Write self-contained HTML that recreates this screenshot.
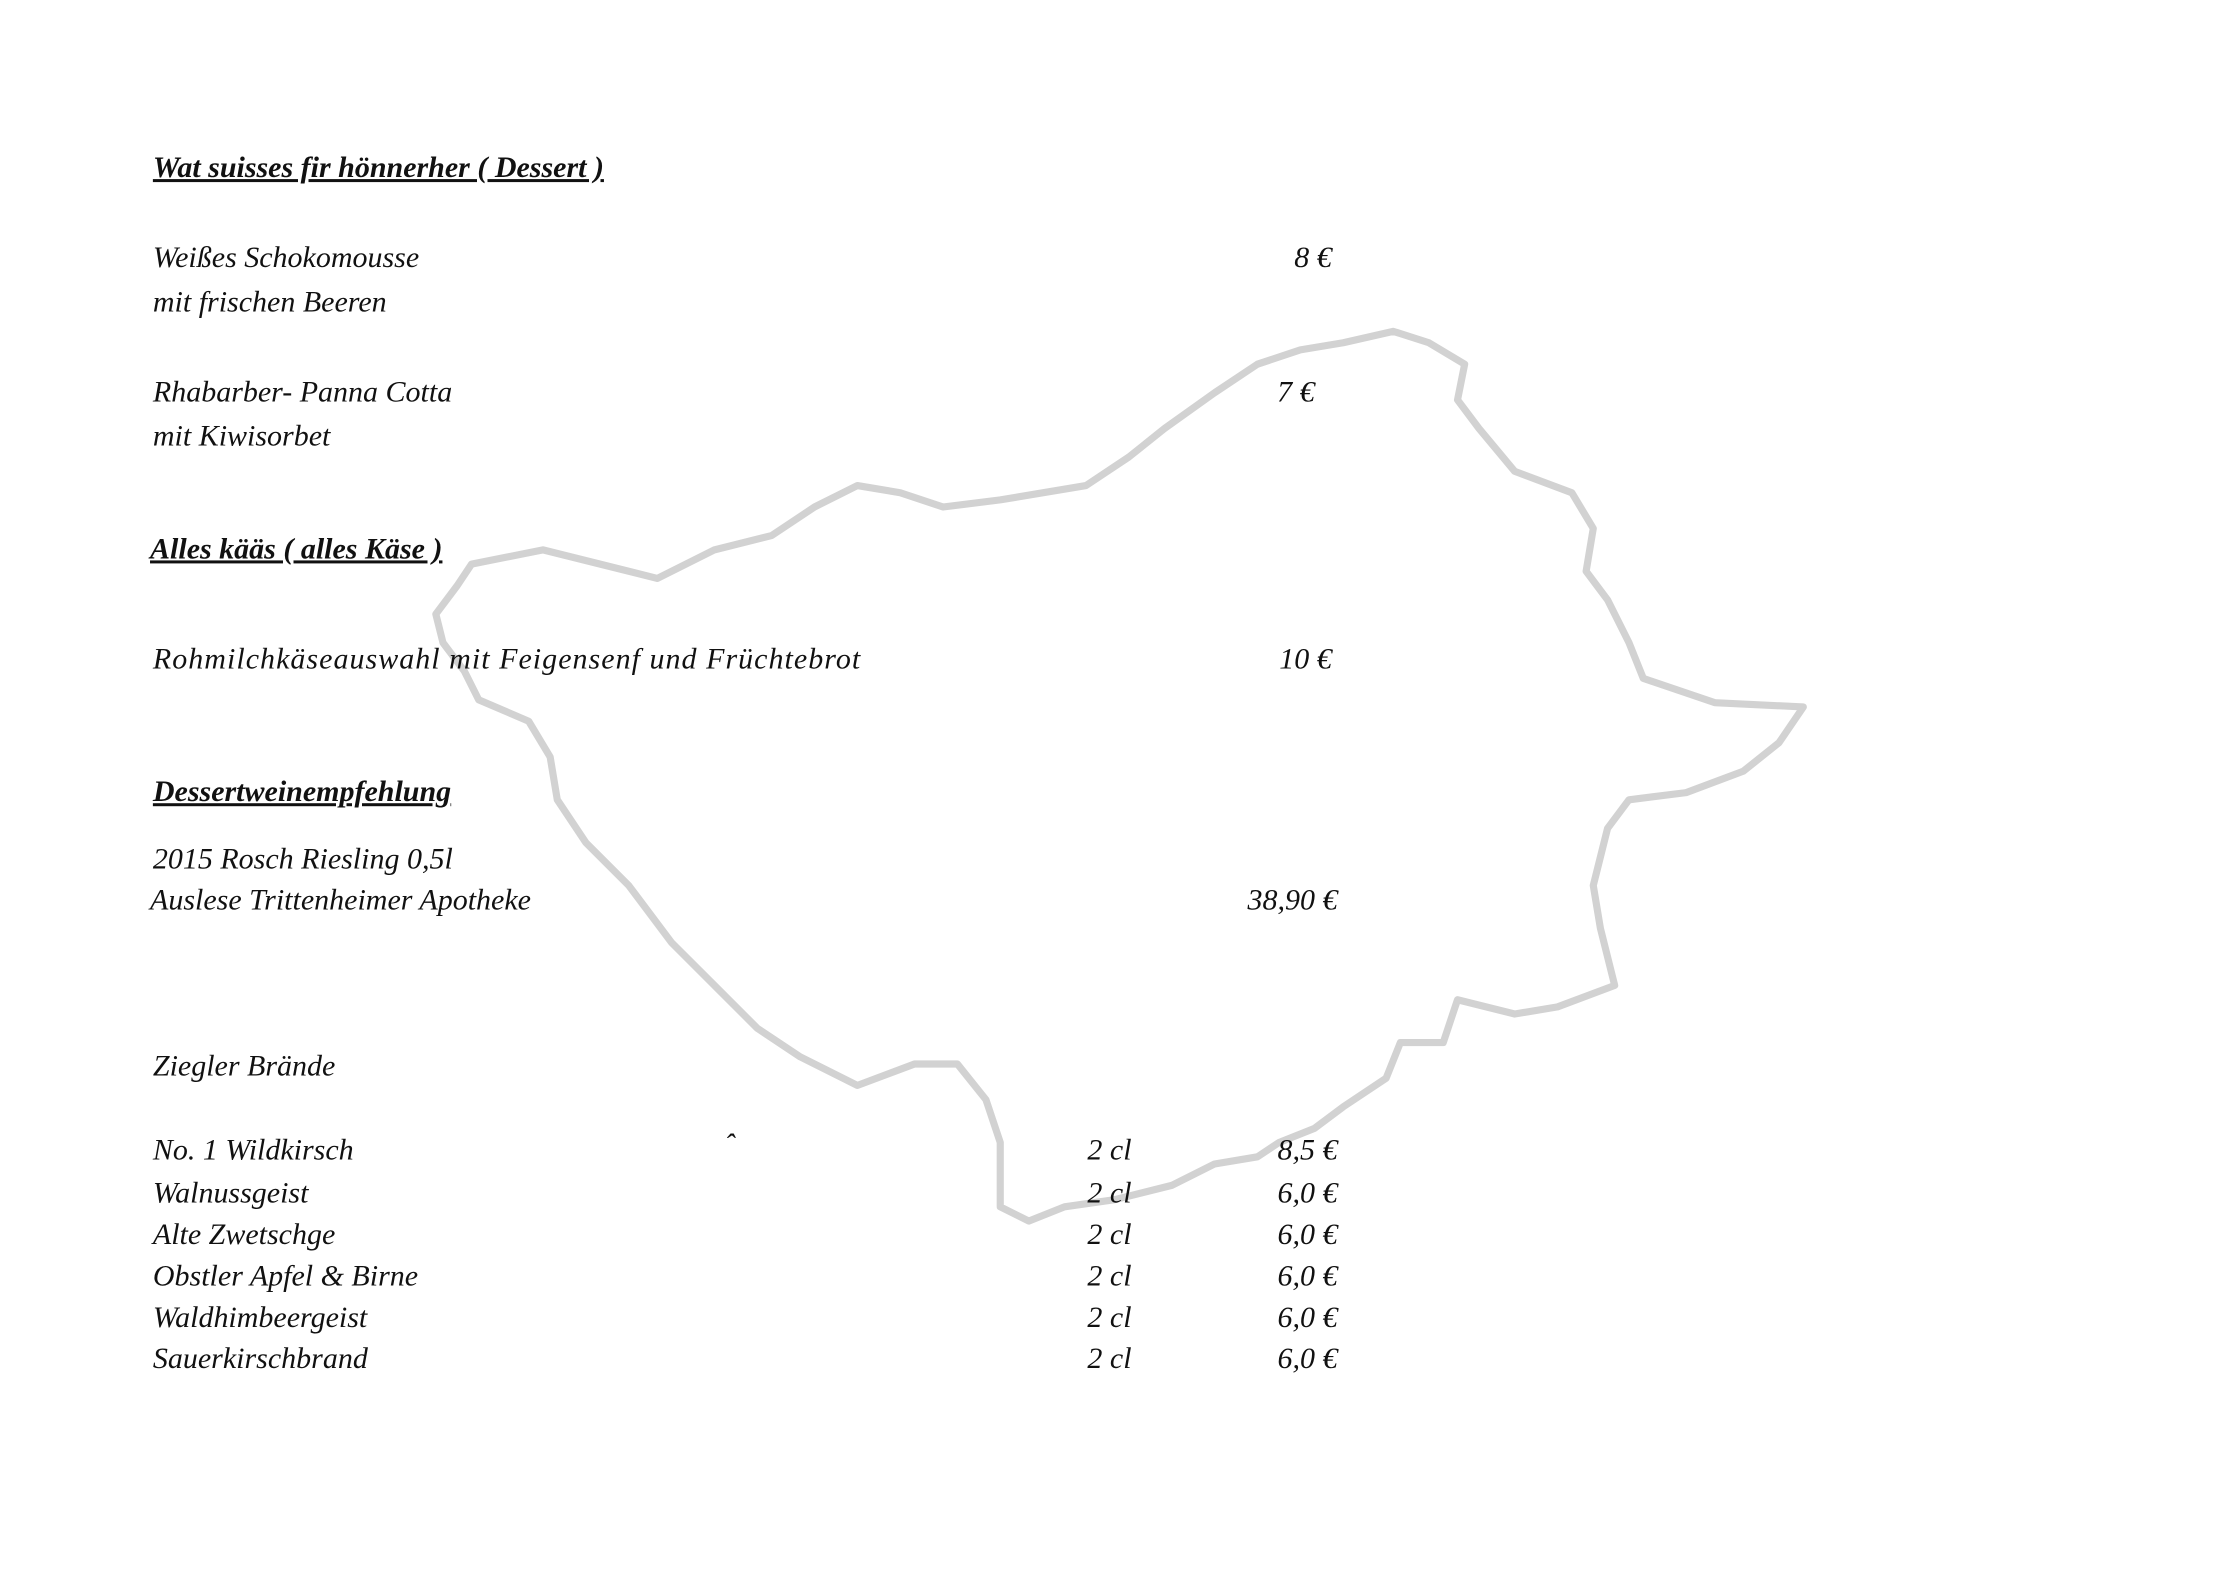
<!DOCTYPE html>
<html><head><meta charset="utf-8"><style>
html,body{margin:0;padding:0;background:#fff;}
svg{display:block}
text{font-family:"Liberation Serif",serif;font-style:italic;font-size:21px;fill:#111}
.h{font-weight:bold;text-decoration:underline;font-size:21px}
</style></head><body>
<svg width="2222" height="1571" viewBox="0 0 1555 1100" preserveAspectRatio="none">
<polygon fill="none" stroke="#d2d2d2" stroke-width="5" stroke-linejoin="round" points="330,395 380,385 420,395 460,405 500,385 540,375 570,355 600,340 630,345 660,355 700,350 760,340 790,320 815,300 850,275 880,255 910,245 940,240 975,232 1000,240 1025,255 1020,280 1035,300 1060,330 1100,345 1115,370 1110,400 1125,420 1140,450 1150,475 1200,492 1262,495 1245,520 1220,540 1180,555 1140,560 1125,580 1115,620 1120,650 1130,690 1090,705 1060,710 1020,700 1010,730 980,730 970,755 940,775 920,790 895,800 880,810 850,815 820,830 780,840 745,845 720,855 700,845 700,800 690,770 670,745 640,745 600,760 560,740 530,720 500,690 470,660 440,620 410,590 390,560 385,530 370,505 335,490 325,470 310,450 305,430 320,410"/>
<text x="107" y="124" class="h">Wat suisses fir hönnerher (  Dessert )</text>
<text x="107" y="187">Weißes Schokomousse</text>
<text x="107" y="218">mit frischen Beeren</text>
<text x="932" y="187" text-anchor="end">8 €</text>
<text x="107" y="281">Rhabarber- Panna Cotta</text>
<text x="107" y="312">mit Kiwisorbet</text>
<text x="920" y="281" text-anchor="end">7 €</text>
<text x="105" y="391" class="h">Alles kääs ( alles Käse )</text>
<text x="107" y="468" textLength="495">Rohmilchkäseauswahl mit Feigensenf und Früchtebrot</text>
<text x="932" y="468" text-anchor="end">10 €</text>
<text x="107" y="561" class="h">Dessertweinempfehlung</text>
<text x="107" y="608">2015 Rosch Riesling 0,5l</text>
<text x="105" y="637">Auslese Trittenheimer Apotheke</text>
<text x="936" y="637" text-anchor="end">38,90 €</text>
<text x="107" y="753">Ziegler Brände</text>
<text x="507" y="808">ˆ</text>
<g>
<text x="107" y="812">No. 1 Wildkirsch</text><text x="761" y="812">2 cl</text><text x="936" y="812" text-anchor="end">8,5 €</text>
<text x="107" y="842">Walnussgeist</text><text x="761" y="842">2 cl</text><text x="936" y="842" text-anchor="end">6,0 €</text>
<text x="107" y="871">Alte Zwetschge</text><text x="761" y="871">2 cl</text><text x="936" y="871" text-anchor="end">6,0 €</text>
<text x="107" y="900">Obstler Apfel &amp; Birne</text><text x="761" y="900">2 cl</text><text x="936" y="900" text-anchor="end">6,0 €</text>
<text x="107" y="929">Waldhimbeergeist</text><text x="761" y="929">2 cl</text><text x="936" y="929" text-anchor="end">6,0 €</text>
<text x="107" y="958">Sauerkirschbrand</text><text x="761" y="958">2 cl</text><text x="936" y="958" text-anchor="end">6,0 €</text>
</g>
</svg>
</body></html>
